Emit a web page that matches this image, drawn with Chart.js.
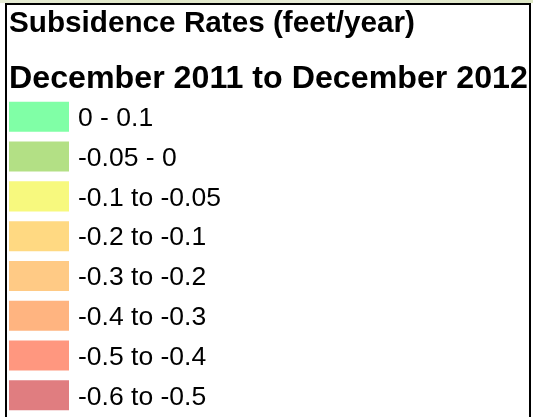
<!DOCTYPE html>
<html>
<head>
<meta charset="utf-8">
<script src="https://cdn.jsdelivr.net/npm/chart.js@4/dist/chart.umd.min.js"></script>
<style>
  html, body { margin: 0; padding: 0; background: #fff; width: 533px; height: 417px; overflow: hidden; }
  #strip { position: absolute; left: 0; top: 0; width: 533px; height: 3px;
           background: linear-gradient(90deg, #e6ecd4, #dfe7c6 30%, #e8ecd8 60%, #dde6c4); }
  #frame { position: absolute; left: 5px; top: 3px; width: 522px; height: 430px;
           border-left: 2px solid #000; border-top: 2px solid #000; border-right: 2px solid #000;
           pointer-events: none; }
  #c { position: absolute; left: 0; top: 0; }
</style>
</head>
<body>
<div id="strip"></div>
<canvas id="c" width="533" height="440"></canvas>
<div id="frame"></div>
<script>
const titleText = "Subsidence Rates (feet/year)";
const subtitleText = "December 2011 to December 2012";
const categories = ["0 - 0.1", "-0.05 - 0", "-0.1 to -0.05", "-0.2 to -0.1",
                    "-0.3 to -0.2", "-0.4 to -0.3", "-0.5 to -0.4", "-0.6 to -0.5"];
const swatchValues = [1, 1, 1, 1, 1, 1, 1, 1];
const swatchColors = ["#80FFA6", "#B3E085", "#F7F97E", "#FFD982",
                      "#FFCA85", "#FFB480", "#FF977F", "#E07D80"];

const FONT = "'Liberation Sans', Arial, Helvetica, sans-serif";

new Chart(document.getElementById("c"), {
  type: "bar",
  data: {
    labels: categories,
    datasets: [{
      data: swatchValues,
      backgroundColor: swatchColors,
      borderWidth: 0,
      barPercentage: 0.755,
      categoryPercentage: 1
    }]
  },
  options: {
    indexAxis: "y",
    responsive: false,
    animation: false,
    layout: { padding: { left: 9, right: 0, top: 0, bottom: 20 } },
    plugins: {
      legend: { display: false },
      tooltip: { enabled: false },
      title: {
        display: true,
        text: titleText,
        align: "start",
        color: "#000",
        font: { family: FONT, size: 29.7, weight: "bold", lineHeight: 1.2 },
        padding: { top: 6, bottom: 0 }
      },
      subtitle: {
        display: true,
        text: subtitleText,
        align: "start",
        color: "#000",
        font: { family: FONT, size: 32.2, weight: "bold", lineHeight: 1.1 },
        padding: { top: 19.4, bottom: 0.5 }
      }
    },
    scales: {
      x: { display: false, min: 0, max: 1 },
      y: {
        position: "right",
        grid: { display: false, drawTicks: false },
        border: { display: false },
        ticks: {
          color: "#000",
          autoSkip: false,
          padding: 9,
          labelOffset: 2,
          font: { family: FONT, size: 26.5 }
        },
        afterFit: (scale) => { scale.width = 533 - 69; }
      }
    }
  }
});
</script>
</body>
</html>
